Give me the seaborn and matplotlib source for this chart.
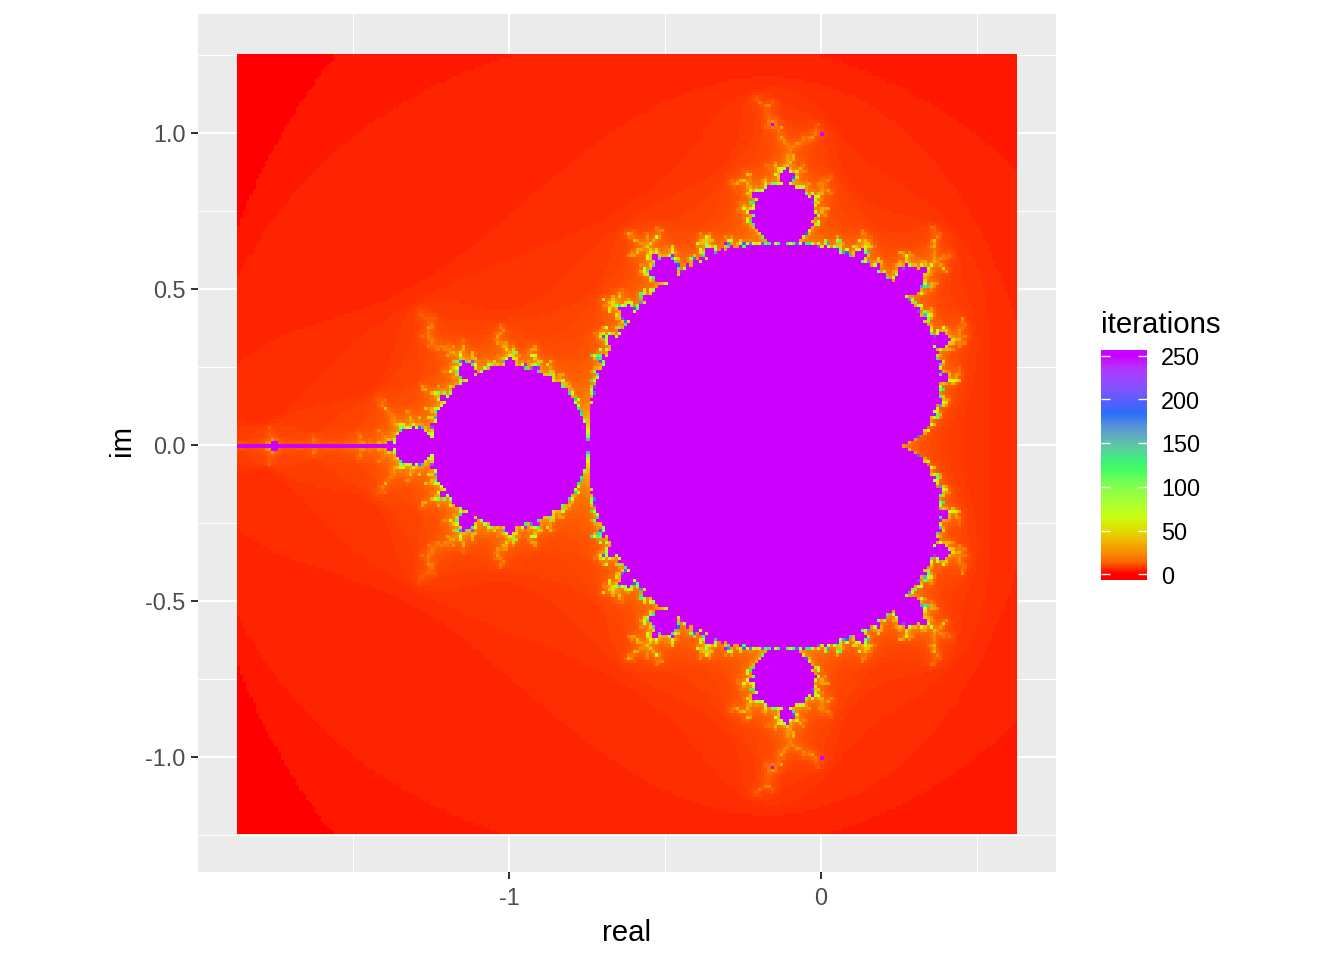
import numpy as np
import pandas as pd
import matplotlib
matplotlib.use('Agg')
import matplotlib.pyplot as plt
from matplotlib.colors import ListedColormap, LinearSegmentedColormap
import seaborn as sns

# NOTE: the cell values are computed with the Mandelbrot escape-time recurrence,
# not read off the picture: the chart has 62500 cells and that recurrence is what
# defines them. Everything else (grid, ticks, palette, limits) is typed below.
real_start, real_stop = -1.87, 0.62
im_start, im_stop = -1.24, 1.25
grid_step = 0.01
max_iterations = 250

x_major = [-1, 0]
x_minor = [-1.5, -0.5, 0.5]
x_labels = ['-1', '0']
y_major = [-1.0, -0.5, 0.0, 0.5, 1.0]
y_minor = [-1.25, -0.75, -0.25, 0.25, 0.75, 1.25]
y_labels = ['-1.0', '-0.5', '0.0', '0.5', '1.0']
legend_breaks = [0, 50, 100, 150, 200, 250]
palette = ['#FF0000', '#CCFF00', '#00FF66', '#0066FF', '#CC00FF']  # rainbow(5)

W, H = 1344, 960
px = 1 / 312  # one pixel in data units


def hex_to_lab(h):
    rgb = np.array(matplotlib.colors.to_rgb(h))
    lin = np.where(rgb <= 0.04045, rgb / 12.92, ((rgb + 0.055) / 1.055) ** 2.4)
    m = np.array([[0.4124564, 0.3575761, 0.1804375],
                  [0.2126729, 0.7151522, 0.0721750],
                  [0.0193339, 0.1191920, 0.9503041]])
    xyz = m @ lin / np.array([0.95047, 1.0, 1.08883])
    f = np.where(xyz > 0.008856, np.cbrt(xyz), 7.787 * xyz + 16 / 116)
    return np.array([116 * f[1] - 16, 500 * (f[0] - f[1]), 200 * (f[1] - f[2])])


def lab_to_rgb(lab):
    fy = (lab[..., 0] + 16) / 116
    f = np.stack([fy + lab[..., 1] / 500, fy, fy - lab[..., 2] / 200], axis=-1)
    xyz = np.where(f ** 3 > 0.008856, f ** 3, (f - 16 / 116) / 7.787) * np.array([0.95047, 1.0, 1.08883])
    m = np.array([[3.2404542, -1.5371385, -0.4985314],
                  [-0.9692660, 1.8760108, 0.0415560],
                  [0.0556434, -0.2040259, 1.0572252]])
    lin = np.clip(xyz @ m.T, 0, 1)
    return np.where(lin <= 0.0031308, lin * 12.92, 1.055 * lin ** (1 / 2.4) - 0.055)


# same colour interpolation as ggplot's gradientn (in Lab)
stops = np.array([hex_to_lab(c) for c in palette])
t = np.linspace(0, len(palette) - 1, max_iterations + 1)
lab = np.stack([np.interp(t, np.arange(len(palette)), stops[:, i]) for i in range(3)], axis=-1)
fill_cmap = ListedColormap(lab_to_rgb(lab))

# escape time
n_real = int(round((real_stop - real_start) / grid_step)) + 1
n_im = int(round((im_stop - im_start) / grid_step)) + 1
real = np.round(real_start + grid_step * np.arange(n_real), 2)
im = np.round(im_start + grid_step * np.arange(n_im), 2)
c = real[None, :] + 1j * im[:, None]
z = c.copy()
iterations = np.zeros(c.shape, dtype=int)
for k in range(max_iterations):
    alive = np.abs(z) <= 2
    iterations[alive] += 1
    z[alive] = z[alive] ** 2 + c[alive]
df = pd.DataFrame(iterations, index=im, columns=real)

sns.set_theme(style='darkgrid', rc={'axes.facecolor': '#EBEBEB', 'figure.facecolor': 'white'})
plt.rcParams['font.family'] = ['Liberation Sans', 'DejaVu Sans']

fig = plt.figure(figsize=(7, 5), dpi=192)
ax = fig.add_axes([198 / W, 1 - 872 / H, 858 / W, 858 / H])
sns.heatmap(df, ax=ax, cmap=fill_cmap, vmin=0, vmax=max_iterations, cbar=False,
            xticklabels=False, yticklabels=False, rasterized=True)


# ticks sit one pixel away from the cell centres in the reference
def cell_x(v):
    return (np.asarray(v) - px - real_start) / grid_step + 0.5


def cell_y(v):
    return (np.asarray(v) + px - im_start) / grid_step + 0.5


ax.set_xlim(cell_x(-0.6218 - 1.375), cell_x(-0.6218 + 1.375))
ax.set_ylim(cell_y(0.0064 - 1.375), cell_y(0.0064 + 1.375))
ax.set_xticks(cell_x(x_major))
ax.set_xticklabels(x_labels)
ax.set_xticks(cell_x(x_minor), minor=True)
ax.set_yticks(cell_y(y_major))
ax.set_yticklabels(y_labels, rotation=0)
ax.set_yticks(cell_y(y_minor), minor=True)
ax.set_axisbelow(True)
ax.grid(True, which='major', color='white', linewidth=0.75)
ax.grid(True, which='minor', color='white', linewidth=0.375)
ax.tick_params(which='major', length=2.75, width=0.75, color='#333333', labelcolor='#4D4D4D',
               labelsize=8.8, bottom=True, left=True)
ax.tick_params(axis='x', which='major', pad=3.0)
ax.tick_params(axis='y', which='major', pad=1.9)
ax.tick_params(which='minor', length=0)
for s in ax.spines.values():
    s.set_visible(False)
ax.set_xlabel('')
ax.set_ylabel('')
fig.text(627 / W, 1 - 933 / H, 'real', fontsize=11, ha='center', va='center', color='black')
fig.text(122 / W, 1 - 441 / H, 'im', fontsize=11, ha='center', va='center', rotation=90, color='black')

# legend bar: 20 colour bins blended, like the old guide_colourbar
bar_top, bar_bottom, bar_left, bar_right = 350, 580, 1101, 1147
per_px = max_iterations / 218.5
bar_hi = max_iterations + 5.75 * per_px
bar_lo = -5.75 * per_px
bar_cmap = LinearSegmentedColormap.from_list('bar', fill_cmap(np.linspace(0, 1, 20)), N=512)
bar_values = np.linspace(bar_lo, bar_hi, bar_bottom - bar_top)
cax = fig.add_axes([bar_left / W, 1 - bar_bottom / H, (bar_right - bar_left) / W, (bar_bottom - bar_top) / H])
sns.heatmap(pd.DataFrame({'v': bar_values}), ax=cax, cmap=bar_cmap, vmin=0, vmax=max_iterations,
            cbar=False, xticklabels=False, yticklabels=False, rasterized=True)
cax.set_ylim(0, len(bar_values))
cax.grid(False)
cax.set_xlabel('')
cax.set_ylabel('')
for s in cax.spines.values():
    s.set_visible(False)
cax.tick_params(left=False, bottom=False)
for b in legend_breaks:
    yy = (b - bar_lo) / (bar_hi - bar_lo) * len(bar_values)
    cax.plot([0, 0.2], [yy, yy], color='white', linewidth=0.5, solid_capstyle='butt')
    cax.plot([0.8, 1], [yy, yy], color='white', linewidth=0.5, solid_capstyle='butt')
    fig.text(1161 / W, 1 - (577 - b * 218.5 / max_iterations) / H, str(b), fontsize=8.8,
             ha='left', va='center', color='black')
fig.text(1101 / W, 1 - 325 / H, 'iterations', fontsize=11, ha='left', va='center', color='black')

fig.savefig('out.png', dpi=192)
